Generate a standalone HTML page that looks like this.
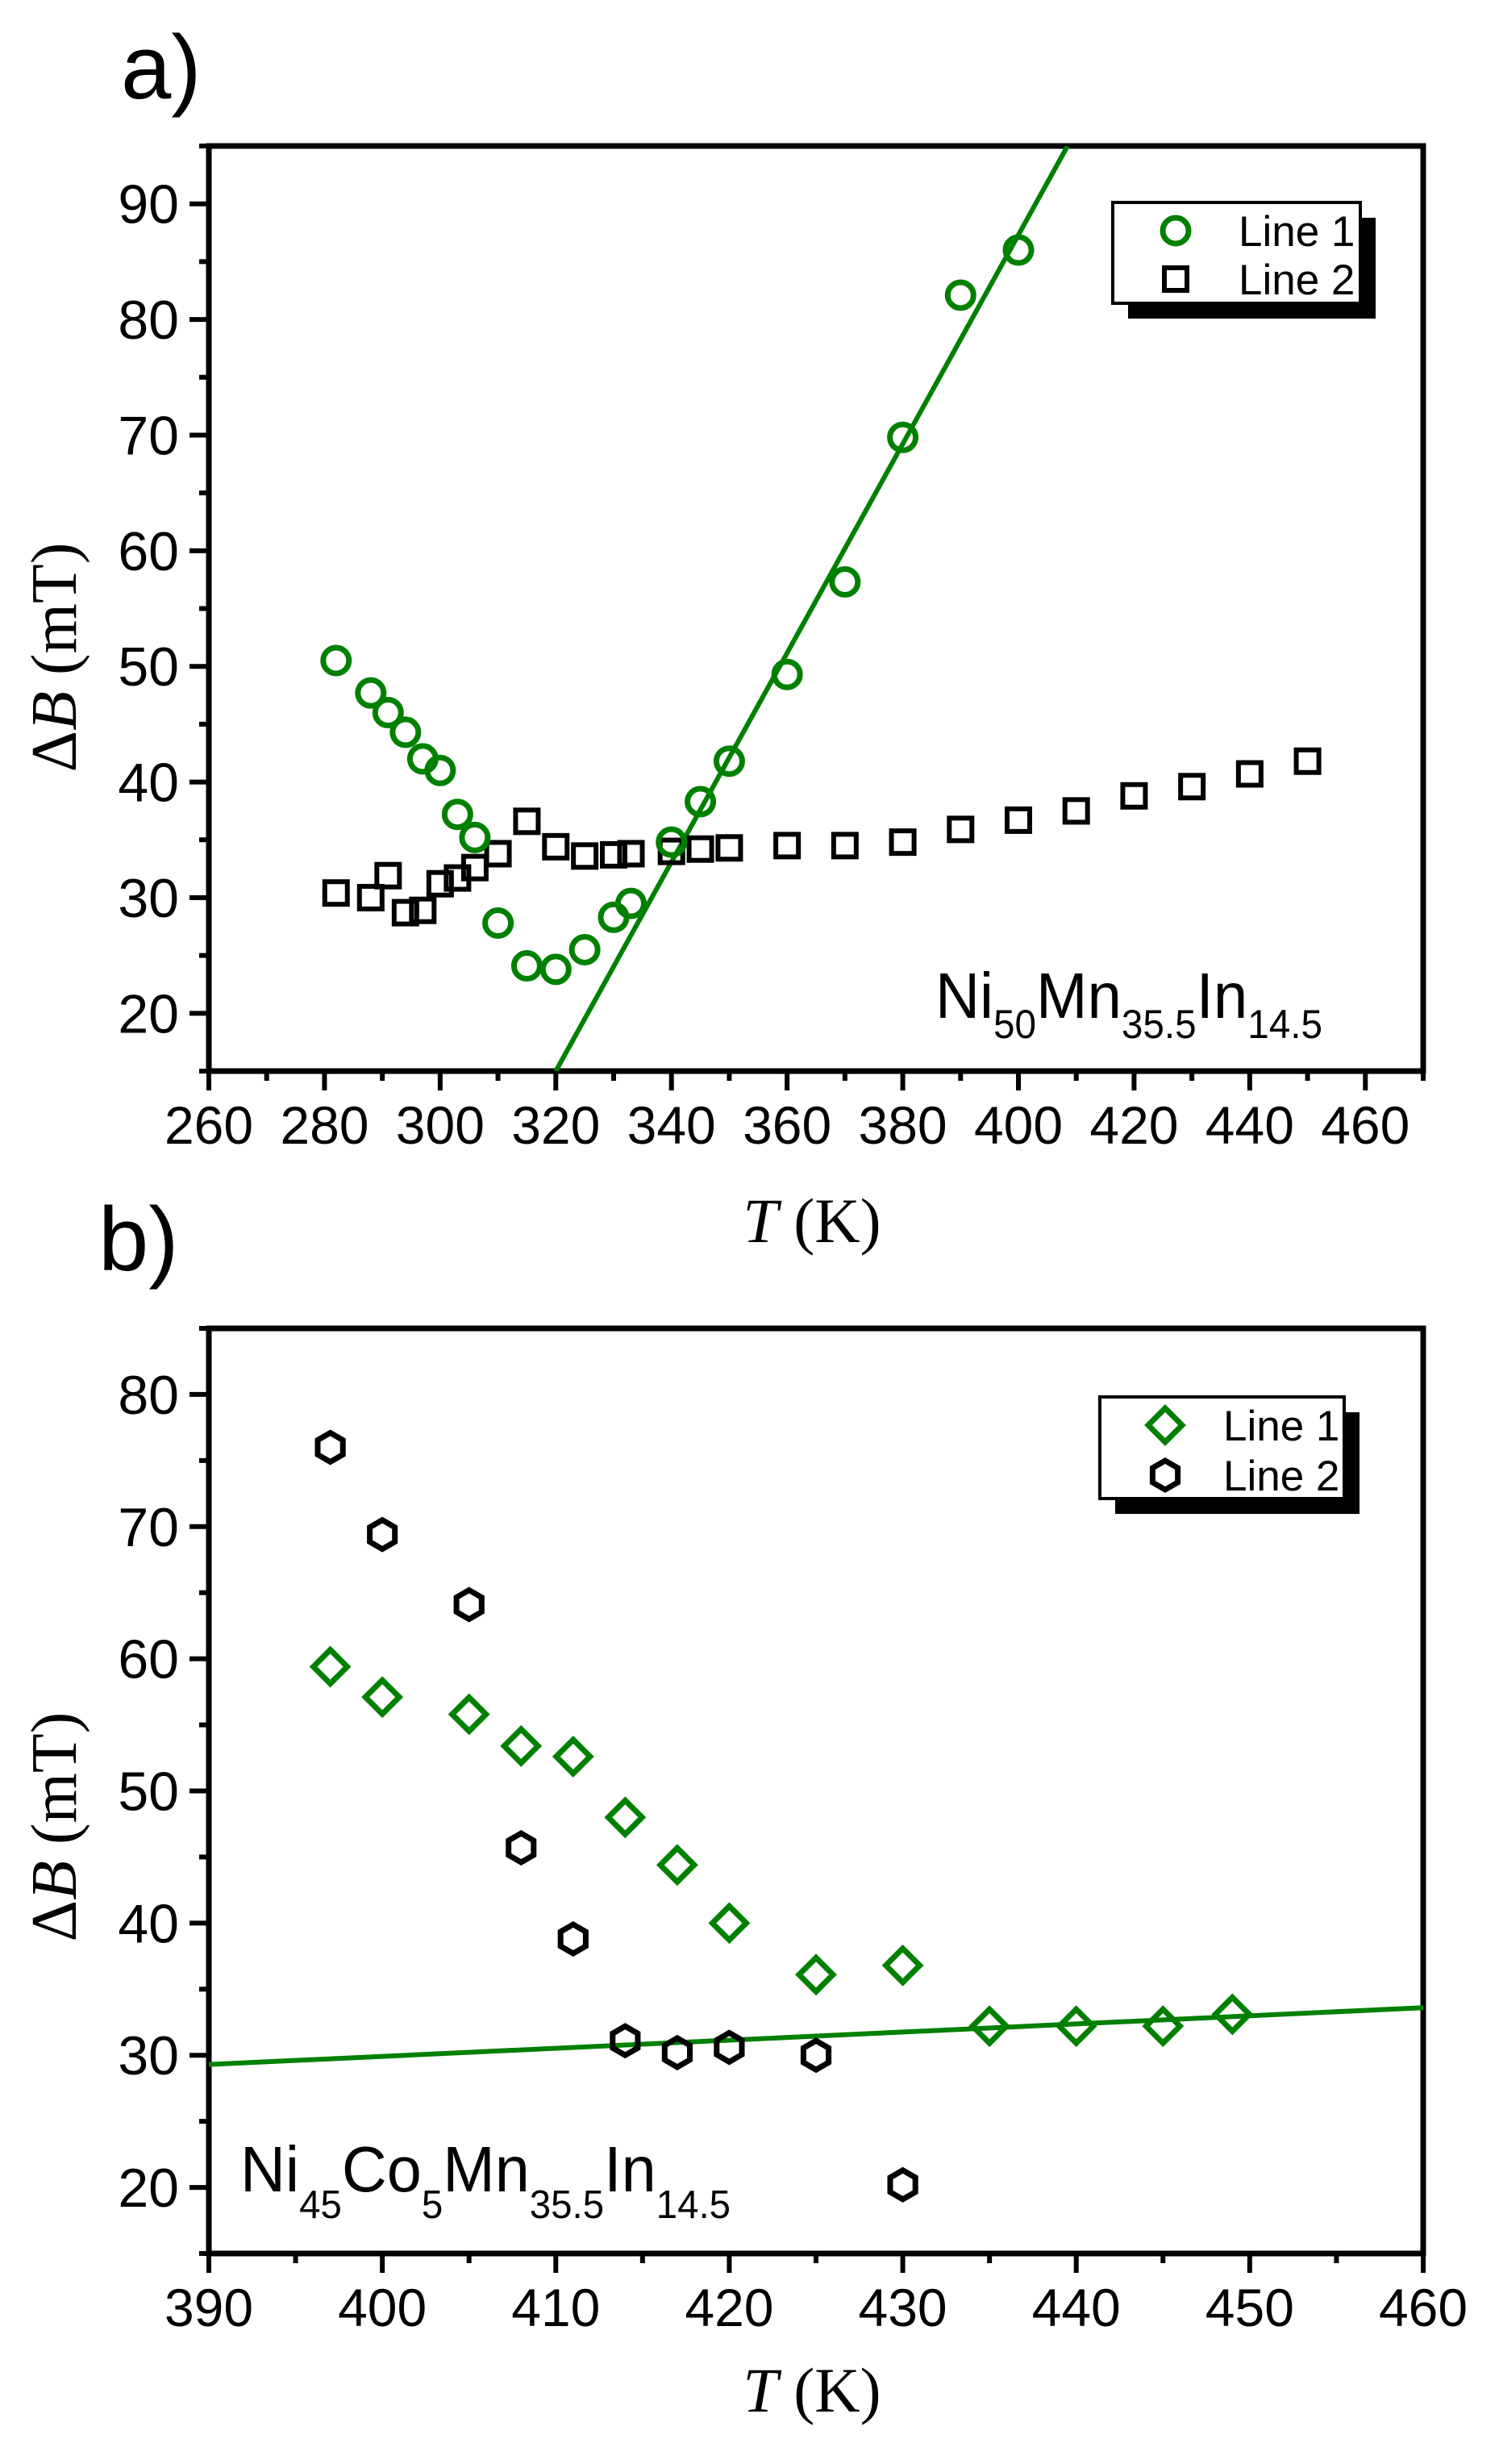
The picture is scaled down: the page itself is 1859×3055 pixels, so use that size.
<!DOCTYPE html>
<html><head><meta charset="utf-8"><title>ΔB vs T</title>
<style>
html,body{margin:0;padding:0;background:#fff;}
svg{display:block;}
text{font-family:"Liberation Sans",Arial,sans-serif;}
.serif{font-family:"Liberation Serif","Times New Roman",serif;}
</style></head>
<body>
<svg id="fig" width="1859" height="3055" viewBox="0 0 1859 3055" xmlns="http://www.w3.org/2000/svg">
<rect width="1859" height="3055" fill="#fff"/>
<text x="150" y="122" font-size="112">a)</text>
<text x="122" y="1575" font-size="112">b)</text>
<g id="chartA"></g>
<g id="chartB"></g>
</svg>
<script>
// ---- Panel a data ----
const aCircleT = [282,288,291,294,297,300,303,306,310,315,320,325,330,333,340,345,350,360,370,380,390,400];
const aCircleB = [50.5,47.7,46.0,44.3,42.0,41.0,37.2,35.2,27.8,24.1,23.8,25.5,28.3,29.5,34.8,38.3,41.8,49.3,57.3,69.8,82.1,86.0];
const aSquareT = [282,288,291,294,297,300,303,306,310,315,320,325,330,333,340,345,350,360,370,380,390,400,410,420,430,440,450];
const aSquareB = [30.4,30.0,31.9,28.7,28.9,31.2,31.7,32.6,33.8,36.6,34.4,33.6,33.7,33.8,34.0,34.2,34.3,34.5,34.5,34.8,35.9,36.7,37.5,38.8,39.6,40.7,41.8];
const aFitT = [320,408.5];
const aFitB = [15,95];
const aXTicks = [260,280,300,320,340,360,380,400,420,440,460];
const aYTicks = [20,30,40,50,60,70,80,90];
// ---- Panel b data ----
const bDiamondT = [397,400,405,408,411,414,417,420,425,430,435,440,445,449];
const bDiamondB = [59.4,57.1,55.8,53.4,52.6,48.0,44.4,40.0,36.1,36.8,32.2,32.2,32.2,33.1];
const bHexT = [397,400,405,408,411,414,417,420,425,430];
const bHexB = [76.0,69.4,64.1,45.7,38.8,31.1,30.2,30.6,30.0,20.2];
const bFitT = [390,460];
const bFitB = [29.3,33.6];
const bXTicks = [390,400,410,420,430,440,450,460];
const bYTicks = [20,30,40,50,60,70,80];

const NS = "http://www.w3.org/2000/svg";
const GREEN = "#008000";
function mk(tag, attrs, parent){
  const e = document.createElementNS(NS, tag);
  for (const k in attrs) e.setAttribute(k, attrs[k]);
  parent.appendChild(e);
  return e;
}

function buildChart(g, cfg){
  const L=259, R=1765, T=cfg.top, B=cfg.bottom;
  const sx = v => L + (v-cfg.xmin)/(cfg.xmax-cfg.xmin)*(R-L);
  const sy = v => B - (v-cfg.ymin)/(cfg.ymax-cfg.ymin)*(B-T);
  const cid = g.id+"clip";
  const cp = mk("clipPath",{id:cid},g);
  mk("rect",{x:L,y:T,width:R-L,height:B-T},cp);
  const frame = mk("rect",{x:L,y:T,width:R-L,height:B-T,fill:"none",stroke:"#000","stroke-width":7},g);
  
  
  for (let v=cfg.xmin; v<=cfg.xmax+1e-9; v+=cfg.xminor){
    const major = cfg.xTicks.some(t=>Math.abs(t-v)<1e-6);
    const x=sx(v);
    const tk = mk("line",{x1:x,x2:x,y1:B,y2:B+(major?24:12),stroke:"#000","stroke-width":6},g);
    
    
  }
  cfg.xTicks.forEach(v=>{
    const t = mk("text",{x:sx(v),y:cfg.xLabelY,"font-size":66,"text-anchor":"middle"},g);
    t.textContent = v;
    
    
  });
  for (let v=cfg.ymin; v<=cfg.ymax+1e-9; v+=5){
    const major = cfg.yTicks.some(t=>Math.abs(t-v)<1e-6);
    const y=sy(v);
    const tk = mk("line",{x1:L,x2:L-(major?24:12),y1:y,y2:y,stroke:"#000","stroke-width":6},g);
    
    
  }
  cfg.yTicks.forEach(v=>{
    const t = mk("text",{x:222,y:sy(v)+24,"font-size":68,"text-anchor":"end"},g);
    t.textContent = v;
    
    
  });
  const xt = mk("text",{x:1007,y:cfg.xTitleY,"font-size":78,"text-anchor":"middle","class":"serif"},g);
  xt.innerHTML = '<tspan font-style="italic">T</tspan> (K)';
  
  
  const yt = mk("text",{x:0,y:0,"font-size":80,"text-anchor":"middle","class":"serif",transform:`translate(94,${cfg.yTitleC}) rotate(-90)`},g);
  yt.innerHTML = 'Δ<tspan font-style="italic">B</tspan> (mT)';
  
  
  const fl = mk("line",{x1:sx(cfg.fitT[0]),y1:sy(cfg.fitB[0]),x2:sx(cfg.fitT[1]),y2:sy(cfg.fitB[1]),stroke:GREEN,"stroke-width":6,"clip-path":`url(#${cid})`},g);
  
  
  return {sx,sy};
}

function marker(g, kind, x, y, color){
  let e;
  if (kind==="circle") e = mk("circle",{cx:x,cy:y,r:16,fill:"none",stroke:color,"stroke-width":7},g);
  else if (kind==="square") e = mk("rect",{x:x-14,y:y-14,width:28,height:28,fill:"none",stroke:color,"stroke-width":6},g);
  else if (kind==="diamond") e = mk("polygon",{points:`${x},${y-21} ${x+21},${y} ${x},${y+21} ${x-21},${y}`,fill:"none",stroke:color,"stroke-width":7},g);
  else {
    const r=18, pts=[];
    for(let i=0;i<6;i++){const a=Math.PI/6+i*Math.PI/3; pts.push((x+r*Math.cos(a)).toFixed(1)+","+(y+r*Math.sin(a)).toFixed(1));}
    e = mk("polygon",{points:pts.join(" "),fill:"none",stroke:color,"stroke-width":7},g);
  }
  return e;
}

function legend(g, box, items){
  const sh = mk("rect",{x:box.x+19,y:box.y+19,width:box.w,height:box.h,fill:"#000"},g);
  
  
  const bx = mk("rect",{x:box.x,y:box.y,width:box.w,height:box.h,fill:"#fff",stroke:"#000","stroke-width":4},g);
  
  
  items.forEach(it=>{
    const m = marker(g,it.kind,box.mx,it.y,it.color);
    
    
    const t = mk("text",{x:box.tx,y:it.y+19,"font-size":53},g);
    t.textContent = it.label;
    
    
  });
}

// ---- Chart A ----
const gA = document.getElementById("chartA");
const A = buildChart(gA,{top:181,bottom:1328,xmin:260,xmax:470,ymin:15,ymax:95,xminor:10,
  xTicks:aXTicks,yTicks:aYTicks,fitT:aFitT,fitB:aFitB,xLabelY:1418,xTitleY:1540,yTitleC:815});
aSquareT.forEach((t,i)=>{
  const m = marker(gA,"square",A.sx(t),A.sy(aSquareB[i]),"#000");
  
  
});
aCircleT.forEach((t,i)=>{
  const m = marker(gA,"circle",A.sx(t),A.sy(aCircleB[i]),GREEN);
  
  
});
legend(gA,{x:1380,y:251,w:307,h:125,mx:1458,tx:1536},[
  {kind:"circle",y:286,color:GREEN,label:"Line 1"},
  {kind:"square",y:346,color:"#000",label:"Line 2"}]);
const fa = mk("text",{x:1160,y:1262,"font-size":80,textLength:480,lengthAdjust:"spacingAndGlyphs"},gA);
fa.innerHTML = 'Ni<tspan font-size="50" dy="25">50</tspan><tspan dy="-25">Mn</tspan><tspan font-size="50" dy="25">35.5</tspan><tspan dy="-25">In</tspan><tspan font-size="50" dy="25">14.5</tspan>';



// ---- Chart B ----
const gB = document.getElementById("chartB");
const Bc = buildChart(gB,{top:1647,bottom:2794,xmin:390,xmax:460,ymin:15,ymax:85,xminor:5,
  xTicks:bXTicks,yTicks:bYTicks,fitT:bFitT,fitB:bFitB,xLabelY:2884,xTitleY:2990,yTitleC:2265});
bHexT.forEach((t,i)=>{
  const m = marker(gB,"hex",Bc.sx(t),Bc.sy(bHexB[i]),"#000");
  
  
});
bDiamondT.forEach((t,i)=>{
  const m = marker(gB,"diamond",Bc.sx(t),Bc.sy(bDiamondB[i]),GREEN);
  
  
});
legend(gB,{x:1364,y:1732,w:303,h:126,mx:1445,tx:1517},[
  {kind:"diamond",y:1767,color:GREEN,label:"Line 1"},
  {kind:"hex",y:1829,color:"#000",label:"Line 2"}]);
const fb = mk("text",{x:298,y:2717,"font-size":80,textLength:608,lengthAdjust:"spacingAndGlyphs"},gB);
fb.innerHTML = 'Ni<tspan font-size="49" dy="33">45</tspan><tspan dy="-33">Co</tspan><tspan font-size="49" dy="33">5</tspan><tspan dy="-33">Mn</tspan><tspan font-size="49" dy="33">35.5</tspan><tspan dy="-33">In</tspan><tspan font-size="49" dy="33">14.5</tspan>';


</script>
</body></html>
